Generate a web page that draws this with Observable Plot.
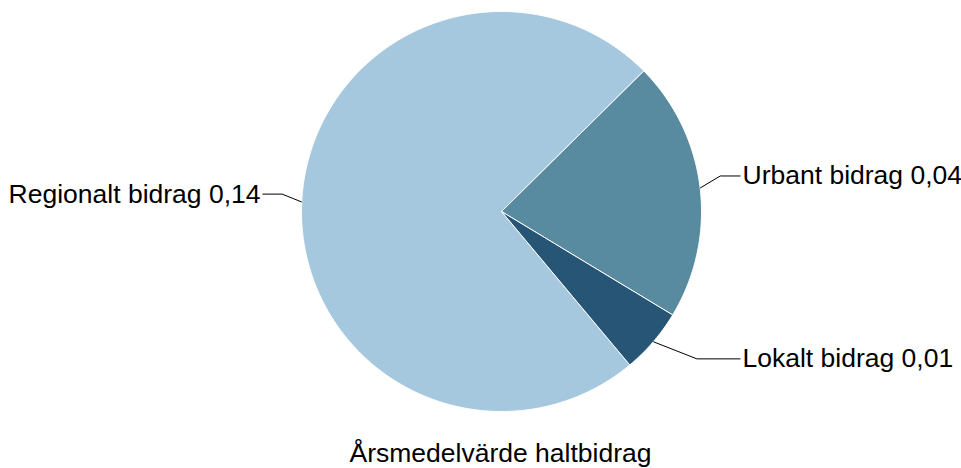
<!DOCTYPE html>
<html>
<head>
<meta charset="utf-8">
<script src="https://cdn.jsdelivr.net/npm/d3@7"></script>
<script src="https://cdn.jsdelivr.net/npm/@observablehq/plot@0.6"></script>
<style>
  body { margin: 0; background: #fff; font-family: "Liberation Sans", Arial, sans-serif; }
  #caption { width: 961px; box-sizing: border-box; padding-left: 40px; text-align: center;
             font-size: 26.5px; line-height: 30px; color: #000; margin: 0; }
</style>
</head>
<body>
<div id="chart"></div>
<div id="caption"></div>
<script>
// ---- data ----
const categories = ["Regionalt bidrag", "Urbant bidrag", "Lokalt bidrag"];
const values = [0.14, 0.04, 0.01];
const colors = ["#a5c8df", "#588aa0", "#275576"];
const captionText = "Årsmedelvärde haltbidrag";

// ---- layout constants ----
const W = 961, H = 438;
const cxPx = 501, cyPx = 211, rPx = 200;
const startDeg = 140.1;

const rows = categories.map((c, i) => ({name: c, value: values[i]}));
const arcs = d3.pie().sort(null).value(d => d.value)
  .startAngle(startDeg * Math.PI / 180)
  .endAngle(startDeg * Math.PI / 180 + 2 * Math.PI)(rows);

// slice outlines (unit radius, y up)
const slicePts = [];
for (const a of arcs) {
  const n = Math.max(4, Math.ceil((a.endAngle - a.startAngle) / (Math.PI / 360)));
  slicePts.push({name: a.data.name, x: 0, y: 0});
  for (let k = 0; k <= n; k++) {
    const t = a.startAngle + (a.endAngle - a.startAngle) * k / n;
    slicePts.push({name: a.data.name, x: Math.sin(t), y: Math.cos(t)});
  }
  slicePts.push({name: a.data.name, x: 0, y: 0});
}

// labels and connectors
const fmt = v => String(v).replace(".", ",");
const labels = [];
const connPts = [];
for (const a of arcs) {
  const mid = (a.startAngle + a.endAngle) / 2;
  const ax = Math.sin(mid), ay = Math.cos(mid);
  const side = ax < 0 ? -1 : 1;
  const ly = (ay > 0 ? 1.3 : 1.17) * ay + 0.025;
  const lx = side * 1.195;
  connPts.push({name: a.data.name, x: ax, y: ay});
  connPts.push({name: a.data.name, x: (ax + lx) / 2, y: ly});
  connPts.push({name: a.data.name, x: lx, y: ly});
  labels.push({name: a.data.name, side, x: side * 1.205, y: ly,
               text: `${a.data.name} ${fmt(a.data.value)}`});
}

const chart = Plot.plot({
  width: W, height: H,
  marginTop: 0, marginRight: 0, marginBottom: 0, marginLeft: 0,
  x: {domain: [-cxPx / rPx, (W - cxPx) / rPx], axis: null},
  y: {domain: [-(H - cyPx) / rPx, cyPx / rPx], axis: null},
  color: {domain: categories, range: colors},
  style: {fontFamily: "'Liberation Sans', Arial, sans-serif", background: "#fff"},
  marks: [
    Plot.line(slicePts, {x: "x", y: "y", z: "name", fill: "name", stroke: "#fff",
                         strokeWidth: 1, curve: "linear", strokeLinejoin: "round"}),
    Plot.line(connPts, {x: "x", y: "y", z: "name", stroke: "#000", strokeWidth: 1,
                        curve: "linear", strokeLinecap: "butt"}),
    Plot.text(labels.filter(d => d.side > 0), {x: "x", y: "y", text: "text",
              textAnchor: "start", fontSize: 26.5, fill: "#000"}),
    Plot.text(labels.filter(d => d.side < 0), {x: "x", y: "y", text: "text",
              textAnchor: "end", fontSize: 26.5, fill: "#000"})
  ]
});
document.getElementById("chart").appendChild(chart);
document.getElementById("caption").textContent = captionText;
</script>
</body>
</html>
